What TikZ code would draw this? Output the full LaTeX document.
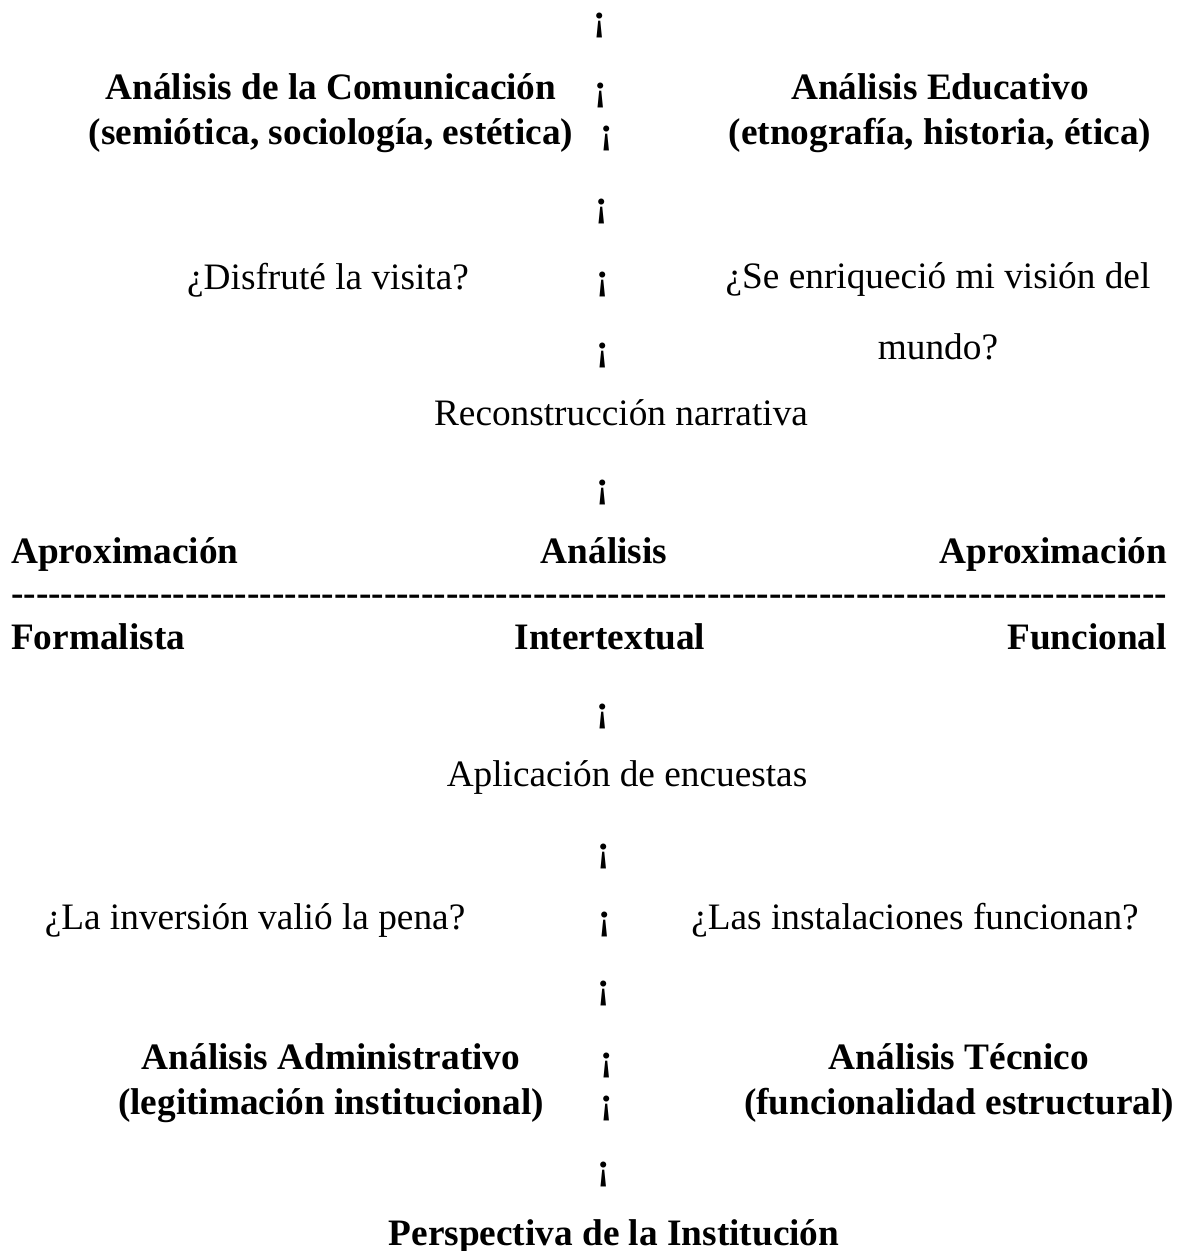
\documentclass[tikz,border=0pt]{standalone}
\usepackage{fontspec}
\setmainfont{Liberation Serif}
\usetikzlibrary{shapes,arrows}
\usetikzlibrary{positioning}
\newcommand{\tam}{\fontsize{37.3}{45}\selectfont}
\tikzstyle{titulo} = [font=\tam\bfseries, inner sep=0pt, align=center]
\tikzstyle{pregunta} = [font=\tam, inner sep=0pt, align=center]
\tikzstyle{bang} = [font=\tam\bfseries, inner sep=0pt]

\begin{document}
\begin{tikzpicture}[x=1pt, y=-1pt, every node/.append style={anchor=base}]
    \useasboundingbox (0,0) rectangle (1182,1251);
	%% Central column
    \node [bang] (b0) at (600,30) {¡};
    \node [bang] (b1) at (601,100) {¡};
    \node [bang] (b2) at (607,143) {¡};
    \node [bang] (b3) at (602,216) {¡};
    \node [bang] (b4) at (603,289) {¡};
    \node [bang] (b5) at (603,360) {¡};
    \node [bang] (b7) at (603,497) {¡};
    \node [bang] (b11) at (603,721) {¡};
    \node [bang] (b13) at (604,861) {¡};
    \node [bang] (b14) at (605,929) {¡};
    \node [bang] (b15) at (604,998) {¡};
    \node [bang] (b16) at (607,1070) {¡};
    \node [bang] (b17) at (607,1113) {¡};
    \node [bang] (b18) at (604,1179) {¡};
	%% Visitor side
    \node [titulo, anchor=north] (comunicacion) at (331,73) {Análisis de la Comunicación\\(semiótica, sociología, estética)};
    \node [titulo, anchor=north] (educativo) at (940,73) {Análisis Educativo\\(etnografía, historia, ética)};
    \node [pregunta] (disfrute) at (328,289) {¿Disfruté la visita?};
    \node [pregunta, font=\fontsize{37.3}{71}\selectfont, anchor=north] (vision) at (938,262) {¿Se enriqueció mi visión del\\mundo?};
    \node [pregunta] (narrativa) at (621,425) {Reconstrucción narrativa};
	%% Approaches
    \node [titulo, anchor=base west] (aproxF) at (11,563) {Aproximación};
    \node [titulo] (analisis) at (604,563) {Análisis};
    \node [titulo, anchor=base east] (aproxR) at (1167,563) {Aproximación};
    \node [titulo, anchor=base west] (guiones) at (11,605) {\makebox[1156pt]{\xleaders\hbox{-}\hfill}};
    \node [titulo, anchor=base west] (formalista) at (11,649) {Formalista};
    \node [titulo] (intertextual) at (610,649) {Intertextual};
    \node [titulo, anchor=base east] (funcional) at (1167,649) {Funcional};
	%% Institution side
    \node [pregunta] (encuestas) at (627,786) {Aplicación de encuestas};
    \node [pregunta] (inversion) at (255,929) {¿La inversión valió la pena?};
    \node [pregunta] (instalaciones) at (915,929) {¿Las instalaciones funcionan?};
    \node [titulo, anchor=north] (administrativo) at (331,1043) {Análisis Administrativo\\(legitimación institucional)};
    \node [titulo, anchor=north] (tecnico) at (959,1043) {Análisis Técnico\\(funcionalidad estructural)};
    \node [titulo] (institucion) at (614,1245) {Perspectiva de la Institución};
\end{tikzpicture}
\end{document}
